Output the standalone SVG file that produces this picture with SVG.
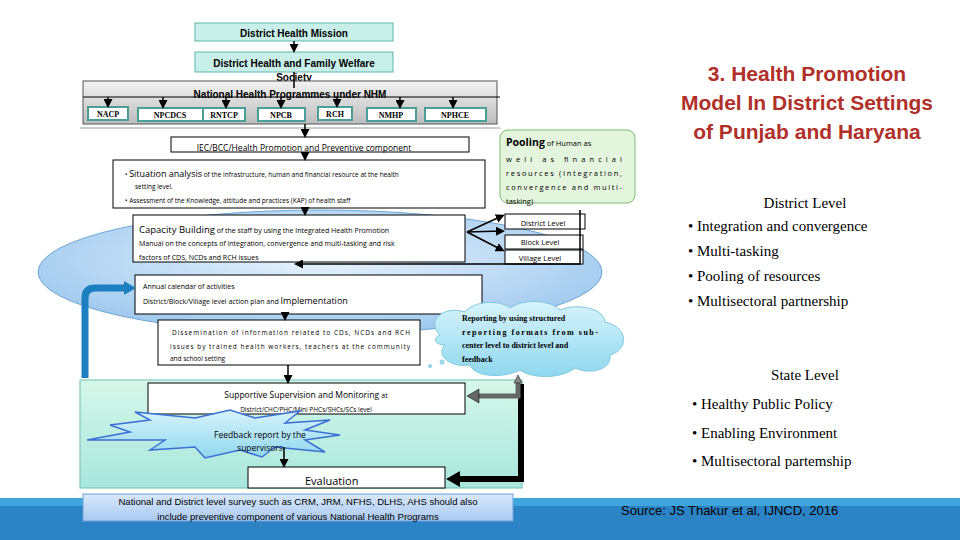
<svg xmlns="http://www.w3.org/2000/svg" width="960" height="540" viewBox="0 0 960 540">
<defs>
<linearGradient id="gg" x1="0" y1="0" x2="0" y2="1"><stop offset="0" stop-color="#f2f2f2"/><stop offset="1" stop-color="#bdbdbd"/></linearGradient>
<radialGradient id="eg" cx="0.5" cy="0.4" r="0.6"><stop offset="0" stop-color="#e8f3fd"/><stop offset="1" stop-color="#9ec8ee"/></radialGradient>
<linearGradient id="grn" x1="0" y1="0" x2="0" y2="1"><stop offset="0" stop-color="#d6f7ea"/><stop offset="1" stop-color="#a8e6dc"/></linearGradient>
<linearGradient id="sb" x1="0" y1="0" x2="0" y2="1"><stop offset="0" stop-color="#d8e8fb"/><stop offset="1" stop-color="#a9c9f0"/></linearGradient>
<linearGradient id="cl" x1="0" y1="0" x2="0" y2="1"><stop offset="0" stop-color="#d7f3fb"/><stop offset="1" stop-color="#8fd8ef"/></linearGradient>
<marker id="ah" markerWidth="6" markerHeight="6" refX="4" refY="3" orient="auto"><path d="M0,0 L6,3 L0,6 z" fill="#000"/></marker>
</defs>
<style>
.b{fill:#fff;stroke:#000;stroke-width:1}
.t{font-family:"Liberation Sans",Arial,sans-serif;fill:#000}
.c{font-family:"Open Sans","DejaVu Sans",sans-serif;fill:#000}
.s{font-family:"Liberation Serif","Times New Roman",serif;fill:#000}
.p{fill:#fff;stroke:#4a9e98;stroke-width:2}
.pt{font-family:"Liberation Serif",serif;font-size:8px;font-weight:bold;text-anchor:middle}
.ln{stroke:#000;stroke-width:1.5;fill:none}
</style>
<rect width="960" height="540" fill="#fff"/>
<rect x="0" y="498" width="960" height="42" fill="#2c84c6"/>
<rect x="0" y="498" width="960" height="8" fill="#3fa6dc"/>
<g id="ellipse"><ellipse cx="320" cy="272" rx="282" ry="62" fill="url(#eg)" stroke="#6fa6d6"/></g>
<g id="green"><rect x="80" y="380" width="442" height="108" fill="url(#grn)" stroke="#6cc0b0"/></g>
<g id="dhm"><rect x="195" y="23" width="198" height="18" fill="#c8efe9" stroke="#5fb7ad"/><text class="t" x="294" y="37" font-size="10" font-weight="bold" text-anchor="middle">District Health Mission</text></g>
<g id="dhfws"><rect x="195" y="52" width="198" height="20" fill="#c8efe9" stroke="#5fb7ad"/><text class="t" x="294" y="67" font-size="10" font-weight="bold" text-anchor="middle">District Health and Family Welfare</text><text class="t" x="294" y="81" font-size="10" font-weight="bold" text-anchor="middle">Society</text></g>
<g id="nhp"><rect x="83" y="81" width="414" height="43" fill="url(#gg)" stroke="#555"/><text class="t" x="290" y="98" font-size="10" font-weight="bold" text-anchor="middle">National Health Programmes under NHM</text>
<line x1="83" y1="97" x2="500" y2="97" stroke="#000"/>
<g>
<rect class="p" x="88" y="107" width="40" height="13"/><text class="pt" x="108" y="117">NACP</text>
<rect class="p" x="138" y="108" width="65" height="13"/><text class="pt" x="170" y="118">NPCDCS</text>
<rect class="p" x="203" y="108" width="42" height="13"/><text class="pt" x="224" y="118">RNTCP</text>
<rect class="p" x="258" y="108" width="47" height="13"/><text class="pt" x="281" y="118">NPCB</text>
<rect class="p" x="318" y="107" width="34" height="13"/><text class="pt" x="335" y="117">RCH</text>
<rect class="p" x="367" y="108" width="49" height="13"/><text class="pt" x="391" y="118">NMHP</text>
<rect class="p" x="425" y="108" width="61" height="13"/><text class="pt" x="455" y="118">NPHCE</text>
</g></g>
<line x1="80" y1="128" x2="500" y2="128" stroke="#999"/>
<g id="iec"><rect class="b" x="171" y="137" width="298" height="15"/><text class="c" x="304" y="151" font-size="8.5" text-anchor="middle">IEC/BCC/Health Promotion and Preventive component</text></g>
<g id="situation"><rect class="b" x="113" y="160" width="372" height="48"/>
<text class="c" x="125" y="177" font-size="6.5">•  <tspan font-size="9">Situation analysis</tspan> of the infrastructure, human and financial resource at the health</text>
<text class="c" x="135" y="189" font-size="6.5">setting level.</text>
<text class="c" x="125" y="203" font-size="6.5">•   Assessment of the Knowledge, attitude and practices (KAP) of health staff</text></g>
<g id="capacity"><rect class="b" x="133" y="215" width="332" height="47"/>
<text class="c" x="139" y="233" font-size="7"><tspan font-size="9.5">Capacity Building</tspan> of the staff by using the Integrated Health Promotion</text>
<text class="c" x="139" y="246" font-size="7">Manual on the concepts of integration, convergence and multi-tasking and risk</text>
<text class="c" x="139" y="260" font-size="7">factors of CDS, NCDs and RCH issues</text></g>
<g id="levels">
<rect class="b" x="505" y="214" width="80" height="15"/><text class="c" x="543" y="226" font-size="7.5" text-anchor="middle">District Level</text>
<rect class="b" x="505" y="235" width="78" height="14"/><text class="c" x="540" y="245" font-size="7.5" text-anchor="middle">Block Level</text>
<rect class="b" x="505" y="250" width="78" height="14"/><text class="c" x="540" y="261" font-size="7.5" text-anchor="middle">Village Level</text></g>
<g id="pooling"><rect x="500" y="130" width="135" height="73" rx="8" fill="#e3f5dc" stroke="#7cbf6b"/>
<text class="c" x="506" y="146" font-size="7.5"><tspan font-size="10.5" font-weight="bold">Pooling</tspan> of Human as</text>
<text class="c" x="506" y="162" font-size="7.5" textLength="116">well as financial</text>
<text class="c" x="506" y="176" font-size="7.5" textLength="116">resources (Integration,</text>
<text class="c" x="506" y="190" font-size="7.5" textLength="116">convergence and multi-</text>
<text class="c" x="506" y="204" font-size="7.5">tasking)</text></g>
<g id="annual"><rect class="b" x="135" y="275" width="347" height="39"/>
<text class="c" x="143" y="289" font-size="7">Annual calendar of activities</text>
<text class="c" x="143" y="304" font-size="7">District/Block/Village level action plan and <tspan font-size="9">Implementation</tspan></text></g>
<g id="dissemination"><rect class="b" x="158" y="320" width="262" height="45"/>
<text class="c" x="172" y="335" font-size="6.5" textLength="238">Dissemination of information related to CDs, NCDs and RCH</text>
<text class="c" x="170" y="349" font-size="6.5" textLength="240">issues by trained health workers, teachers at the community</text>
<text class="c" x="170" y="361" font-size="6.5">and school setting</text></g>
<g id="cloud"><path d="M440,335 C425,320 445,305 465,312 C475,300 500,300 510,308 C525,298 550,300 560,310 C580,302 605,310 605,322 C630,328 628,350 610,355 C612,370 590,375 575,368 C560,380 530,378 520,370 C505,378 475,378 470,365 C450,368 435,355 445,345 C435,345 432,338 440,335 Z" fill="url(#cl)" stroke="#7fc9e0"/>
<circle cx="442" cy="362" r="2" fill="url(#cl)" stroke="#7fc9e0"/><circle cx="430" cy="366" r="1.5" fill="url(#cl)" stroke="#7fc9e0"/>
<text class="s" x="462" y="321" font-size="8" font-weight="bold">Reporting by using structured</text>
<text class="s" x="462" y="335" font-size="8" font-weight="bold" textLength="136">reporting formats from sub-</text>
<text class="s" x="462" y="348" font-size="8" font-weight="bold">center level to district level and</text>
<text class="s" x="462" y="362" font-size="8" font-weight="bold">feedback</text></g>
<g id="supportive"><rect class="b" x="148" y="383" width="317" height="31"/>
<text class="c" x="306" y="398" font-size="8.5" text-anchor="middle">Supportive Supervision and Monitoring <tspan font-size="7">at</tspan></text>
<text class="c" x="306" y="412" font-size="6.5" text-anchor="middle">District/CHC/PHC/Mini PHCs/SHCs/SCs level</text></g>
<g id="feedback"><path d="M110,425 L150,420 L135,412 L195,418 L230,410 L255,418 L300,411 L285,423 L330,420 L305,430 L340,435 L305,440 L325,452 L275,447 L262,457 L240,450 L205,458 L195,447 L150,450 L165,440 L87,440 L130,432 Z" fill="url(#cl)" stroke="#3b6fd4" stroke-width="1.5"/>
<text class="c" x="260" y="438" font-size="8.5" text-anchor="middle">Feedback report by the</text>
<text class="c" x="260" y="451" font-size="8.5" text-anchor="middle">supervisors</text></g>
<g id="evaluation"><rect class="b" x="248" y="467" width="197" height="21"/><text class="c" x="305" y="485" font-size="11">Evaluation</text></g>
<g id="survey"><rect x="83" y="494" width="430" height="27" fill="url(#sb)" stroke="#6f9fd8"/>
<text class="t" x="298" y="505" font-size="9.5" text-anchor="middle">National and District level survey such as CRM, JRM, NFHS, DLHS, AHS should also</text>
<text class="t" x="298" y="520" font-size="9.5" text-anchor="middle">include preventive component of various National Health Programs</text></g>
<g id="connectors">
<line class="ln" x1="294" y1="41" x2="294" y2="50" marker-end="url(#ah)"/>
<line class="ln" x1="294" y1="72" x2="294" y2="88"/>
<line class="ln" x1="108" y1="97" x2="108" y2="105" marker-end="url(#ah)"/>
<line class="ln" x1="163" y1="97" x2="163" y2="106" marker-end="url(#ah)"/>
<line class="ln" x1="226" y1="97" x2="226" y2="106" marker-end="url(#ah)"/>
<line class="ln" x1="281" y1="97" x2="281" y2="106" marker-end="url(#ah)"/>
<line class="ln" x1="337" y1="97" x2="337" y2="105" marker-end="url(#ah)"/>
<line class="ln" x1="400" y1="97" x2="400" y2="106" marker-end="url(#ah)"/>
<line class="ln" x1="453" y1="97" x2="453" y2="106" marker-end="url(#ah)"/>
<line class="ln" x1="305" y1="124" x2="305" y2="135" marker-end="url(#ah)"/>
<line class="ln" x1="305" y1="152" x2="305" y2="158" marker-end="url(#ah)"/>
<line class="ln" x1="305" y1="208" x2="305" y2="213" marker-end="url(#ah)"/>
<line class="ln" x1="467" y1="232" x2="502" y2="216" marker-end="url(#ah)"/>
<line class="ln" x1="467" y1="232" x2="502" y2="231" marker-end="url(#ah)"/>
<line class="ln" x1="467" y1="232" x2="502" y2="250" marker-end="url(#ah)"/>
<polyline class="ln" points="580,210 580,264 297,264" marker-end="url(#ah)"/>
<line class="ln" x1="285" y1="314" x2="285" y2="318" marker-end="url(#ah)"/>
<line class="ln" x1="288" y1="365" x2="288" y2="381" marker-end="url(#ah)"/>
<line class="ln" x1="284" y1="447" x2="284" y2="465" marker-end="url(#ah)"/>
<path d="M85,378 L85,298 Q85,288 95,288 L125,288" fill="none" stroke="#1d7fc0" stroke-width="7"/>
<path d="M124,281 L136,288 L124,295 Z" fill="#1d7fc0"/>
<path d="M521,384 L521,479 L460,479" fill="none" stroke="#000" stroke-width="6"/>
<path d="M460,471 L446,479 L460,487 Z" fill="#000"/>
<path d="M518,381 L518,396 L478,396" fill="none" stroke="#666" stroke-width="5"/>
<path d="M479,389 L467,396 L479,403 Z" fill="#666" stroke="#000" stroke-width="0.5"/>
<path d="M514,383 L518,375 L522,383 Z" fill="#888" stroke="#000" stroke-width="0.5"/>
</g>
<g id="title" font-family="'Liberation Sans',Arial,sans-serif" font-weight="bold" font-size="21" fill="#b0302a" text-anchor="middle">
<text x="807" y="81">3. Health Promotion</text>
<text x="807" y="110">Model  In District Settings</text>
<text x="807" y="139">of Punjab and Haryana</text></g>
<g id="right">
<text class="s" x="805" y="208" font-size="15" text-anchor="middle">District Level</text>
<text class="s" x="688" y="231" font-size="15">• Integration and convergence</text>
<text class="s" x="688" y="256" font-size="15">• Multi-tasking</text>
<text class="s" x="688" y="281" font-size="15">• Pooling of resources</text>
<text class="s" x="688" y="306" font-size="15">• Multisectoral partnership</text>
<text class="s" x="805" y="380" font-size="15" text-anchor="middle">State Level</text>
<text class="s" x="692" y="409" font-size="15">• Healthy Public Policy</text>
<text class="s" x="692" y="438" font-size="15">• Enabling Environment</text>
<text class="s" x="692" y="466" font-size="15">• Multisectoral partemship</text></g>
<text class="t" x="621" y="515" font-size="13" fill="#1a2a40">Source: JS Thakur et al, IJNCD, 2016</text>
</svg>
